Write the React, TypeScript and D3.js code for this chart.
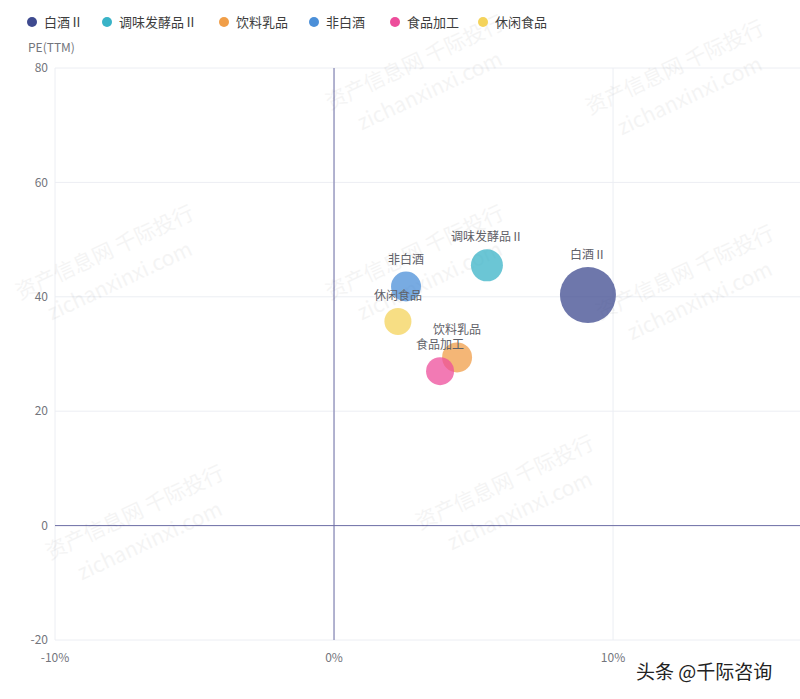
import React from "react";
import * as d3 from "d3";

const categories = ["白酒Ⅱ", "调味发酵品Ⅱ", "饮料乳品", "非白酒", "食品加工", "休闲食品"];
const growth = [9.1, 5.48, 4.41, 2.58, 3.8, 2.29]; // x, %
const pe = [40.3, 45.5, 29.4, 41.8, 27.0, 35.7]; // y, PE(TTM)
const sizes = [28, 16, 15, 15, 14, 13.5]; // bubble size value
const colors = ["#3e4a8f", "#39b3c7", "#f09e48", "#4b8fd8", "#ed4d9b", "#f4d35b"];
const xTicks = [-10, 0, 10, 20];
const yTicks = [-20, 0, 20, 40, 60, 80];

const W = 800;
const H = 699;
const left = 55;
const right = 800;
const top = 68;
const bottom = 640;

const legendItemWidths = [75, 117, 90, 81, 88, 80];

const wmText = [
  { x: 330, y: 110 }, { x: 590, y: 115 },
  { x: 20, y: 300 }, { x: 330, y: 300 }, { x: 600, y: 320 },
  { x: 50, y: 560 }, { x: 420, y: 530 },
];

export default function App() {
  const x = d3.scaleLinear().domain([-10, 16.7]).range([left, right]);
  const y = d3.scaleLinear().domain([-20, 80]).range([bottom, top]);
  const r = d3.scaleLinear().domain([0, 28]).range([0, 28]);
  const font = "'Microsoft YaHei', 'Noto Sans CJK SC', 'Noto Sans', sans-serif";

  let lx = 26;
  const legendPos = legendItemWidths.map((w) => {
    const p = lx;
    lx += w;
    return p;
  });

  return (
    <svg width={W} height={H} style={{ position: "absolute", left: 0, top: 0, background: "#fff" }} fontFamily={font}>
      <rect width={W} height={H} fill="#fff" />
      {/* grid */}
      {yTicks.map((t) => (
        <line key={"gy" + t} x1={left} x2={right} y1={y(t)} y2={y(t)} stroke="#eceef3" strokeWidth={1} />
      ))}
      {xTicks.map((t) => (
        <line key={"gx" + t} x1={x(t)} x2={x(t)} y1={top} y2={bottom} stroke="#eceef3" strokeWidth={1} />
      ))}
      {/* zero axes */}
      <line x1={left} x2={right} y1={y(0)} y2={y(0)} stroke="#6e6fa6" strokeWidth={1} />
      <line x1={x(0)} x2={x(0)} y1={top} y2={bottom} stroke="#6e6fa6" strokeWidth={1} />
      {/* y labels */}
      {yTicks.map((t) => (
        <text key={"ty" + t} x={left - 7} y={y(t)} dy="0.35em" textAnchor="end" fontSize={12} fill="#73757c">
          {t}
        </text>
      ))}
      {xTicks.filter((t) => x(t) <= right).map((t) => (
        <text key={"tx" + t} x={x(t)} y={bottom + 22} textAnchor="middle" fontSize={12} fill="#73757c">
          {t + "%"}
        </text>
      ))}
      <text x={28} y={52} fontSize={12} fill="#73757c">PE(TTM)</text>
      {/* watermarks */}
      {wmText.map((p, i) => (
        <g key={"wm" + i} transform={`translate(${p.x},${p.y}) rotate(-25)`} fill="#000" opacity={0.04}>
          <text fontSize={21} x={0} y={0}>资产信息网 千际投行</text>
          <text fontSize={21} x={20} y={32}>zichanxinxi.com</text>
        </g>
      ))}
      {/* bubbles */}
      {categories.map((c, i) => (
        <circle key={"b" + c} cx={x(growth[i])} cy={y(pe[i])} r={r(sizes[i])} fill={colors[i]} fillOpacity={0.75} />
      ))}
      {categories.map((c, i) => (
        <text key={"l" + c} x={x(growth[i])} y={y(pe[i]) - r(sizes[i]) - 8} textAnchor="middle" fontSize={12} fill="#5f6168">
          {c}
        </text>
      ))}
      {/* legend */}
      {categories.map((c, i) => (
        <g key={"lg" + c} transform={`translate(${legendPos[i]},22)`}>
          <circle cx={6} cy={0} r={5} fill={colors[i]} />
          <text x={18} y={0} dy="0.35em" fontSize={13} fill="#3d3d3d">{c}</text>
        </g>
      ))}
      {/* site watermark */}
      <text x={636} y={679} fontSize={19} fill="#222" stroke="#fff" strokeWidth={3} paintOrder="stroke">头条 @千际咨询</text>
    </svg>
  );
}
